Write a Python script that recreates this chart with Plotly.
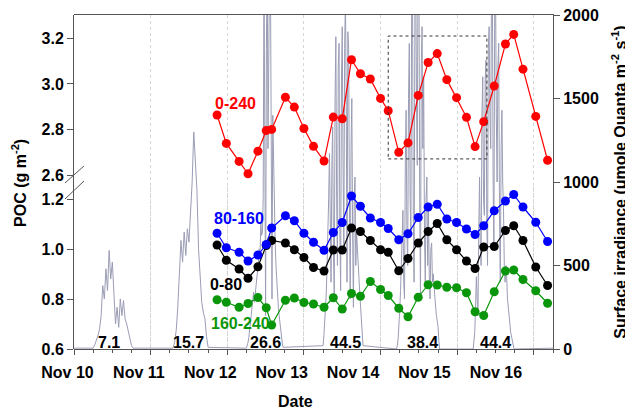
import plotly.graph_objects as go

# ---------------- data ----------------
date_labels = ["Nov 10", "Nov 11", "Nov 12", "Nov 13", "Nov 14", "Nov 15", "Nov 16"]

# POC sampling times (hours since Nov 10 00:00)
sample_hours = [44.8, 47.7, 51.7, 54.5, 57.6, 60.2, 61.9, 66.2, 69.0, 72.0, 75.0, 78.3,
                81.2, 84.0, 86.9, 89.7, 92.8, 96.0, 98.4, 101.7, 104.6, 107.8, 110.9,
                113.75, 116.75, 119.8, 122.9, 125.6, 128.3, 131.6, 135.1, 137.7, 140.6,
                144.6, 148.3]

poc_0_240 = [2.864, 2.740, 2.661, 2.607, 2.706, 2.796, 2.801, 2.942, 2.899, 2.805, 2.727,
             2.663, 2.855, 2.848, 3.106, 3.045, 3.022, 2.937, 2.883, 2.701, 2.742, 2.950,
             3.094, 3.133, 3.019, 2.940, 2.854, 2.726, 2.835, 2.991, 3.175, 3.217, 3.065,
             2.858, 2.666]
poc_80_160 = [1.063, 1.005, 0.987, 0.952, 0.976, 1.018, 1.084, 1.133, 1.113, 1.063, 1.027,
              0.995, 1.066, 1.106, 1.212, 1.171, 1.124, 1.106, 1.082, 1.037, 1.061, 1.126,
              1.168, 1.179, 1.120, 1.106, 1.080, 1.058, 1.093, 1.153, 1.192, 1.218, 1.168,
              1.107, 1.030]
poc_0_80 = [1.016, 0.955, 0.920, 0.883, 0.929, 1.014, 1.034, 1.024, 0.997, 0.966, 0.926,
            0.912, 0.996, 0.996, 1.084, 1.070, 1.034, 0.997, 0.987, 0.913, 0.962, 1.024,
            1.070, 1.102, 1.037, 0.997, 0.952, 0.922, 1.008, 1.010, 1.074, 1.093, 1.034,
            0.928, 0.854]
poc_160_240 = [0.797, 0.787, 0.767, 0.782, 0.806, 0.765, 0.696, 0.795, 0.804, 0.786, 0.780,
               0.767, 0.805, 0.760, 0.822, 0.811, 0.870, 0.838, 0.814, 0.763, 0.729, 0.807,
               0.857, 0.856, 0.847, 0.845, 0.825, 0.749, 0.734, 0.829, 0.912, 0.916, 0.878,
               0.833, 0.783]

# Surface irradiance readings during daylight for each day
irr_start_hour = [6.0, 7.0, 6.0, 6.0, 5.0, 5.0]
irr_step_hour = [0.5, 0.5, 0.25, 0.25, 0.25, 0.25]
irr_nov10 = [5, 25, 50, 80, 120, 200, 380, 300, 480, 350, 590, 420, 520, 300, 150, 250,
             130, 300, 200, 290, 180, 150, 100, 50, 20, 5]
irr_nov11 = [5, 40, 110, 250, 480, 650, 520, 700, 560, 720, 640, 820, 1000, 1300, 1150,
             950, 600, 420, 280, 220, 180, 75, 10]
irr_nov12 = [5, 20, 40, 70, 110, 150, 200, 260, 300, 340, 280, 330, 350, 420, 450, 520,
             600, 560, 750, 680, 700, 900, 2300, 600, 200, 1800, 2400, 1200, 1600, 2300,
             2300, 900, 300, 1400, 1050, 800, 640, 500, 400, 320, 250, 200, 150, 100, 60,
             30, 10]
irr_nov13 = [20, 80, 150, 250, 330, 500, 640, 900, 1170, 500, 400, 1100, 1330, 600, 300,
             1500, 1870, 900, 500, 1700, 1830, 700, 350, 1600, 1930, 1100, 600, 1800, 2100,
             1500, 400, 1900, 1800, 900, 300, 1200, 1500, 700, 250, 900, 1030, 500, 700,
             600, 530, 420, 330, 250, 170, 80, 20]
irr_nov14 = [0, 20, 60, 130, 230, 350, 500, 650, 830, 400, 300, 1100, 1430, 700, 500, 1500,
             1830, 900, 700, 2100, 2200, 800, 400, 2000, 2300, 1500, 1100, 2400, 2400, 900,
             300, 1700, 1930, 1200, 1630, 700, 400, 900, 1030, 500, 830, 450, 300, 600, 635,
             400, 450, 380, 335, 250, 200, 160, 134, 50, 0]
irr_nov15 = [0, 40, 100, 250, 433, 300, 200, 700, 1030, 600, 500, 1400, 1630, 900, 800,
             1600, 1730, 800, 500, 1800, 1930, 1400, 1200, 2200, 2300, 1000, 600, 2100,
             2200, 1400, 1000, 1700, 1830, 800, 400, 1200, 1430, 1000, 832, 500, 400, 500,
             433, 300, 233, 180, 150, 100, 74, 40, 20, 5, 0]
night_level = 5

daily_par = [7.1, 15.7, 26.6, 44.5, 38.4, 44.4]
daily_par_hours = [11, 36, 60, 85, 109, 132]

# ---------------- build irradiance series ----------------
irr_days = [irr_nov10, irr_nov11, irr_nov12, irr_nov13, irr_nov14, irr_nov15]
irr_x, irr_y = [0.0], [night_level]
for d, (start, step, vals) in enumerate(zip(irr_start_hour, irr_step_hour, irr_days)):
    for i, v in enumerate(vals):
        irr_x.append(d * 24 + start + step * i)
        irr_y.append(v)
irr_x.append(150.0)
irr_y.append(night_level)

FONT = "Arial, 'Liberation Sans', sans-serif"
AX = "#555555"
RED, BLUE, BLACK, GREEN = "#ff0000", "#0000ff", "#000000", "#0a960a"
IRR = "#9b9db5"

fig = go.Figure()
fig.add_trace(go.Scatter(x=irr_x, y=irr_y, mode="lines", xaxis="x", yaxis="y",
                         line=dict(color=IRR, width=1), hoverinfo="skip"))
fig.add_trace(go.Scatter(x=[0], y=[-100], mode="markers", xaxis="x2", yaxis="y",
                         marker=dict(opacity=0), hoverinfo="skip"))

def poc(y, color, yaxis):
    return go.Scatter(x=sample_hours, y=y, mode="lines+markers", xaxis="x", yaxis=yaxis,
                      line=dict(color=color, width=1.2),
                      marker=dict(color=color, size=9, line=dict(width=0)))

fig.add_trace(poc(poc_160_240, GREEN, "y2"))
fig.add_trace(poc(poc_0_80, BLACK, "y2"))
fig.add_trace(poc(poc_80_160, BLUE, "y2"))
fig.add_trace(poc(poc_0_240, RED, "y3"))

tickfont = dict(family=FONT, size=16, color="black", weight="bold")

# the page body adds an 8 px offset, so the figure is 8 px smaller each way
fig.update_layout(
    width=625, height=404, showlegend=False,
    margin=dict(l=52, r=80, t=7, b=63, autoexpand=False),
    paper_bgcolor="white", plot_bgcolor="rgba(0,0,0,0)",
    font=dict(family=FONT, color="black"),
    xaxis=dict(domain=[0.0284, 1], range=[0, 150], anchor="y", automargin=False,
               showline=True, linecolor=AX, linewidth=1, mirror=True,
               ticks="outside", tickmode="linear", tick0=0, dtick=24, ticklen=5,
               tickcolor=AX, showticklabels=False,
               showgrid=True, gridcolor="#d6d6d6", griddash="dot", gridwidth=1,
               zeroline=False,
               minor=dict(tick0=0, dtick=6, ticks="outside", ticklen=3,
                          tickcolor=AX, showgrid=False)),
    xaxis2=dict(domain=[0, 1], range=[-0.105, 6.8], anchor="y", automargin=False,
                tickmode="array", tickvals=list(range(len(date_labels))),
                ticktext=date_labels, ticks="outside", ticklen=9,
                tickcolor="rgba(0,0,0,0)", showline=False, showgrid=False,
                zeroline=False, tickfont=tickfont, ticklabeloverflow="allow"),
    yaxis=dict(domain=[0, 1], range=[0, 2000], side="right", anchor="x", automargin=False,
               tickmode="array", tickvals=[0, 500, 1000, 1500, 2000],
               ticks="outside", ticklen=6, tickcolor=AX, ticklabeloverflow="allow",
               showline=True, linecolor=AX, linewidth=1,
               showgrid=False, zeroline=False, tickfont=tickfont,
               title=dict(text="Surface irradiance (μmole Quanta m<sup>-2</sup> s<sup>-1</sup>)",
                          font=dict(family=FONT, size=16, weight="bold"), standoff=16)),
    yaxis2=dict(domain=[0, 0.485], range=[0.6, 1.248], anchor="x", side="left",
                automargin=False, ticklabeloverflow="allow",
                tickmode="array", tickvals=[0.6, 0.8, 1.0, 1.2], tickformat=".1f",
                ticks="outside", ticklen=6, tickcolor=AX,
                showline=True, linecolor=AX, linewidth=1,
                showgrid=False, zeroline=False, tickfont=tickfont),
    yaxis3=dict(domain=[0.485, 1], range=[2.549, 3.302], anchor="x", side="left",
                automargin=False, ticklabeloverflow="allow",
                tickmode="array", tickvals=[2.6, 2.8, 3.0, 3.2], tickformat=".1f",
                ticks="outside", ticklen=6, tickcolor=AX,
                showline=True, linecolor=AX, linewidth=1,
                showgrid=False, zeroline=False, tickfont=tickfont),
)

lab = dict(family=FONT, size=16, weight="bold")
annotations = [
    dict(text="0-240", x=50.6, y=2.913, xref="x", yref="y3", showarrow=False,
         font=dict(lab, color=RED)),
    dict(text="80-160", x=51.6, y=1.121, xref="x", yref="y2", showarrow=False,
         font=dict(lab, color=BLUE)),
    dict(text="0-80", x=47.5, y=0.858, xref="x", yref="y2", showarrow=False,
         font=dict(lab, color=BLACK)),
    dict(text="160-240", x=52.2, y=0.703, xref="x", yref="y2", showarrow=False,
         font=dict(lab, color=GREEN)),
    dict(text="POC (g m<sup>-2</sup>)", x=-0.0832, y=0.497, xref="paper", yref="paper",
         textangle=-90, showarrow=False, xanchor="center", yanchor="middle",
         font=dict(lab, color="black")),
    dict(text="Date", x=0.4767, y=-0.158, xref="paper", yref="paper", showarrow=False,
         xanchor="center", yanchor="middle", font=dict(lab, color="black")),
]
for h, v in zip(daily_par_hours, daily_par):
    annotations.append(dict(text=f"{v:.1f}", x=h, y=40, xref="x", yref="y",
                            showarrow=False, yanchor="middle",
                            font=dict(lab, color="black")))
fig.update_layout(annotations=annotations)

fig.update_layout(shapes=[
    dict(type="rect", xref="x", yref="y3", x0=98.4, x1=129.3, y0=2.672, y1=3.210,
         line=dict(color="#333333", width=1, dash="dot")),
    dict(type="line", xref="paper", yref="paper", x0=0.0101, y0=0.497, x1=0.0487, y1=0.548,
         line=dict(color=AX, width=1)),
    dict(type="line", xref="paper", yref="paper", x0=0.0101, y0=0.449, x1=0.0487, y1=0.503,
         line=dict(color=AX, width=1)),
])

fig.write_html("out.html")
